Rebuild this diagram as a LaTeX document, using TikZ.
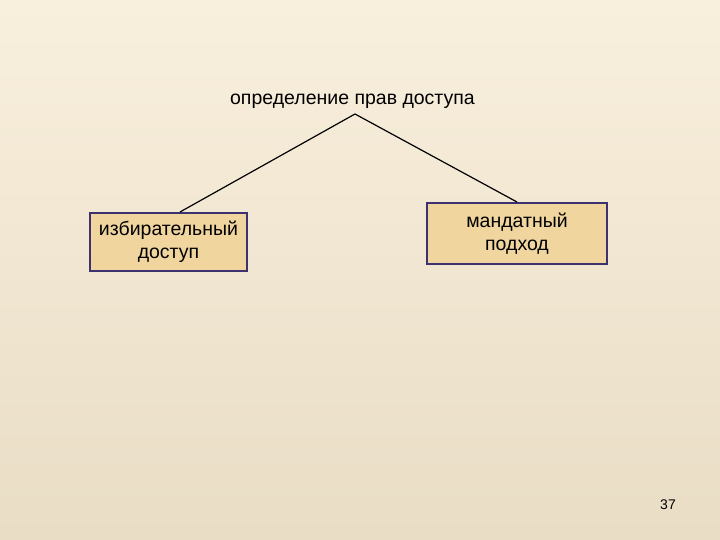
\documentclass[tikz,border=0pt]{standalone}
\usepackage{fontspec}
\setmainfont{Liberation Sans}
\definecolor{bgtop}{HTML}{F8EFDD}
\definecolor{bgbot}{HTML}{E9DDC5}
\definecolor{boxfill}{HTML}{F0D69E}
\definecolor{boxline}{HTML}{3C3270}
\tikzset{
  conceptbox/.style={draw=boxline, line width=2pt, fill=boxfill, align=center,
    font=\fontsize{19.5}{23}\selectfont, inner sep=0pt},
  link/.style={black, line width=1.2pt}
}
\begin{document}
\begin{tikzpicture}[x=1pt,y=-1pt]
\shade[top color=bgtop, bottom color=bgbot] (0,0) rectangle (720,540);
\useasboundingbox (0,0) rectangle (720,540);
\node[font=\fontsize{19.5}{22}\selectfont] (root) at (352.5,101) {определение прав доступа};
\coordinate (apex) at (355,114);
\node[conceptbox, minimum width=157pt, minimum height=58pt] (left) at (168.5,242) {избирательный\\доступ};
\node[conceptbox, minimum width=180pt, minimum height=61pt] (right) at (517,233.5) {мандатный\\подход};
\draw[link] (apex) -- (left.north -| 180,0);
\draw[link] (apex) -- (right.north);
\node[font=\fontsize{14}{16}\selectfont] (page) at (668,505) {37};
\end{tikzpicture}
\end{document}
